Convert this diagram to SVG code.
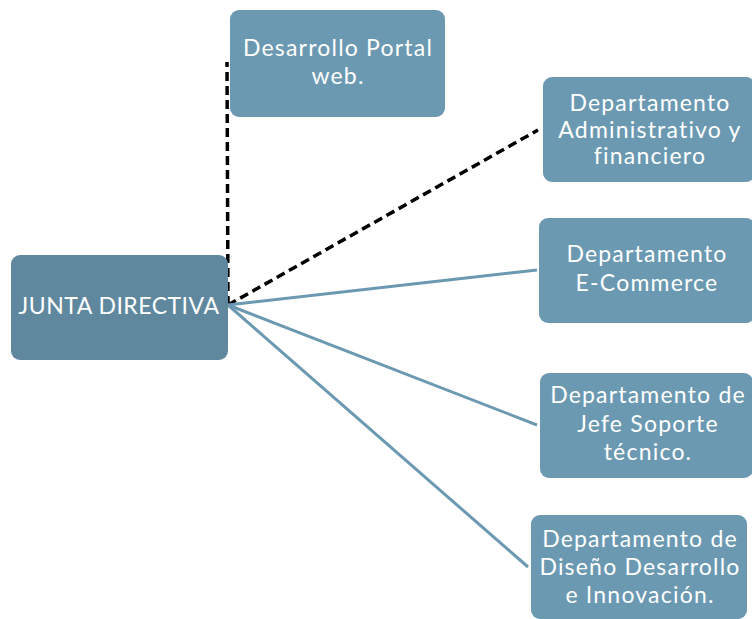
<svg xmlns="http://www.w3.org/2000/svg" width="752" height="619" viewBox="0 0 752 619">
  <style>
    .box { fill: #6b99b1; }
    .root { fill: #5f889f; }
    .lbl { font-family: Lato, "Noto Sans", "DejaVu Sans", sans-serif; font-size: 23px; letter-spacing: 1.2px; fill: #ffffff; text-anchor: middle; }
    .solid { stroke: #6b99b1; stroke-width: 3; fill: none; }
    .dash { stroke: #000000; stroke-width: 3.5; stroke-dasharray: 9 5; fill: none; }
  </style>
  <rect width="752" height="619" fill="#ffffff"/>

  <!-- connectors from the board to each department -->
  <g id="connectors">
    <line class="dash" x1="228" y1="305" x2="227" y2="62"/>
    <line class="dash" x1="228" y1="305" x2="538" y2="130"/>
    <line class="solid" x1="228" y1="305" x2="537" y2="270"/>
    <line class="solid" x1="228" y1="305" x2="537" y2="425"/>
    <line class="solid" x1="228" y1="305" x2="528" y2="567"/>
  </g>

  <g id="portal">
    <rect class="box" x="230" y="10" width="215" height="107" rx="9"/>
    <text class="lbl" x="338" y="56">Desarrollo Portal</text>
    <text class="lbl" x="338" y="84">web.</text>
  </g>

  <g id="junta">
    <rect class="root" x="11" y="255" width="217" height="105" rx="9"/>
    <text class="lbl" x="119" y="314" style="letter-spacing:0.5px">JUNTA DIRECTIVA</text>
  </g>

  <g id="administrativo">
    <rect class="box" x="543" y="77" width="212" height="105" rx="9"/>
    <text class="lbl" x="650" y="111">Departamento</text>
    <text class="lbl" x="650" y="138">Administrativo y</text>
    <text class="lbl" x="650" y="164">financiero</text>
  </g>

  <g id="ecommerce">
    <rect class="box" x="539" y="218" width="216" height="105" rx="9"/>
    <text class="lbl" x="647" y="262">Departamento</text>
    <text class="lbl" x="647" y="291">E-Commerce</text>
  </g>

  <g id="soporte">
    <rect class="box" x="540" y="373" width="213" height="105" rx="9"/>
    <text class="lbl" x="648" y="403">Departamento de</text>
    <text class="lbl" x="648" y="432">Jefe Soporte</text>
    <text class="lbl" x="648" y="460">técnico.</text>
  </g>

  <g id="diseno">
    <rect class="box" x="531" y="515" width="216" height="104" rx="9"/>
    <text class="lbl" x="640" y="547">Departamento de</text>
    <text class="lbl" x="640" y="575">Diseño Desarrollo</text>
    <text class="lbl" x="640" y="603">e Innovación.</text>
  </g>
</svg>
